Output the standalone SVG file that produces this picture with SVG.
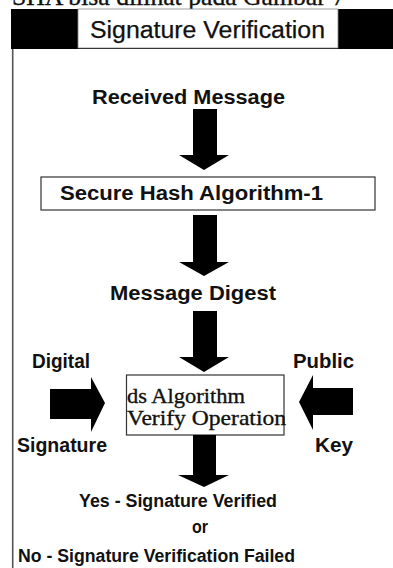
<svg xmlns="http://www.w3.org/2000/svg" width="393" height="568" viewBox="0 0 393 568">
  <style>
    .lbl { font-family: "Liberation Sans", Arial, sans-serif; font-weight: bold; fill: #111; }
    .hdr { font-family: "Liberation Sans", Arial, sans-serif; font-weight: normal; fill: #111; stroke: #111; stroke-width: 0.25; }
    .ser { font-family: "Liberation Serif", "Times New Roman", serif; fill: #111; stroke: #111; stroke-width: 0.35; }
    .box { fill: #fff; stroke: #333; stroke-width: 1.2; }
    .arr { fill: #000; }
  </style>
  <rect width="393" height="568" fill="#fff"/>
  <g id="caption">
    <text class="ser" x="12" y="5" font-size="25.5" stroke-width="0" textLength="333" lengthAdjust="spacingAndGlyphs">SHA bisa dilihat pada Gambar 7</text>
  </g>
  <g id="frame">
    <rect x="11" y="9" width="382" height="40" fill="#000"/>
    <line x1="12.7" y1="49" x2="12.7" y2="568" stroke="#555" stroke-width="1.6"/>
  </g>
  <g id="title">
    <rect x="78" y="9" width="260" height="39" fill="#fff" stroke="#888" stroke-width="0.8"/>
    <text class="hdr" x="90" y="38" font-size="23" textLength="235" lengthAdjust="spacingAndGlyphs">Signature Verification</text>
  </g>
  <g id="received-message">
    <text class="lbl" x="92" y="104" font-size="20" textLength="193" lengthAdjust="spacingAndGlyphs">Received Message</text>
  </g>
  <g id="sha1">
    <rect class="box" x="41" y="177" width="334" height="33"/>
    <text class="lbl" x="60" y="199.5" font-size="20" textLength="263" lengthAdjust="spacingAndGlyphs">Secure Hash Algorithm-1</text>
  </g>
  <g id="message-digest">
    <text class="lbl" x="110" y="300" font-size="20" textLength="166" lengthAdjust="spacingAndGlyphs">Message Digest</text>
  </g>
  <g id="digital-signature">
    <text class="lbl" x="32" y="368" font-size="20" textLength="58" lengthAdjust="spacingAndGlyphs">Digital</text>
    <text class="lbl" x="17" y="452" font-size="20" textLength="90" lengthAdjust="spacingAndGlyphs">Signature</text>
  </g>
  <g id="public-key">
    <text class="lbl" x="293" y="368" font-size="20" textLength="61" lengthAdjust="spacingAndGlyphs">Public</text>
    <text class="lbl" x="315" y="452" font-size="20" textLength="38" lengthAdjust="spacingAndGlyphs">Key</text>
  </g>
  <g id="ds-verify">
    <rect class="box" x="126.5" y="375" width="157.5" height="60"/>
    <text class="ser" x="127" y="403" font-size="22" textLength="118" lengthAdjust="spacingAndGlyphs">ds Algorithm</text>
    <text class="ser" x="127" y="425" font-size="22" textLength="159" lengthAdjust="spacingAndGlyphs">Verify Operation</text>
  </g>
  <g id="result">
    <text class="lbl" x="79" y="507" font-size="18" textLength="198" lengthAdjust="spacingAndGlyphs">Yes - Signature Verified</text>
    <text class="lbl" x="192" y="533" font-size="18" textLength="16" lengthAdjust="spacingAndGlyphs">or</text>
    <text class="lbl" x="18" y="562" font-size="17.5" textLength="277" lengthAdjust="spacingAndGlyphs">No - Signature Verification Failed</text>
  </g>
  <g id="connectors">
    <polygon class="arr" points="193,109 217,109 217,155 229,155 204,170 179,155 193,155"/>
    <polygon class="arr" points="193,215 217,215 217,262 229,262 204,276 179,262 193,262"/>
    <polygon class="arr" points="193,311 217,311 217,357 229,357 204,372 179,357 193,357"/>
    <polygon class="arr" points="193,435 216,435 216,475 229,475 204,487 178,475 193,475"/>
    <polygon class="arr" points="50,389 91,389 91,377 105,403 91,432 91,419 50,419"/>
    <polygon class="arr" points="353,388 313,388 313,375 299,402 313,430 313,415 353,415"/>
  </g>
</svg>
